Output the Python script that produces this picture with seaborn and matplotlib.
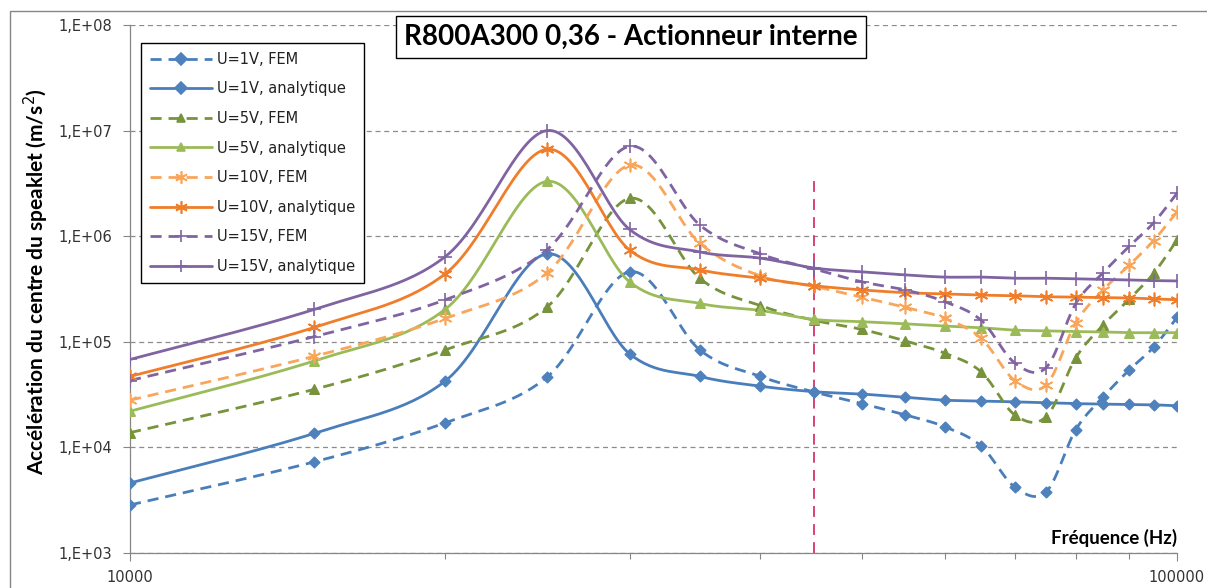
import numpy as np
import matplotlib
matplotlib.use("Agg")
import matplotlib.pyplot as plt
import seaborn as sns
from matplotlib.lines import Line2D
from matplotlib.patches import Rectangle
from matplotlib.ticker import FixedLocator, FuncFormatter, NullFormatter

# frequencies (Hz)
freq = [10000, 15000, 20000, 25000, 30000, 35000, 40000, 45000, 50000, 55000,
        60000, 65000, 70000, 75000, 80000, 85000, 90000, 95000, 100000]

# acceleration values (m/s2)
u1_fem = [2.85e3, 7.3e3, 1.71e4, 4.6e4, 4.6e5, 8.4e4, 4.7e4, 3.35e4, 2.6e4, 2.03e4,
          1.57e4, 1.03e4, 4.2e3, 3.8e3, 1.46e4, 3.0e4, 5.4e4, 8.9e4, 1.7e5]
u1_an = [4.6e3, 1.36e4, 4.25e4, 6.8e5, 7.7e4, 4.7e4, 3.8e4, 3.37e4, 3.2e4, 2.98e4,
         2.8e4, 2.75e4, 2.7e4, 2.65e4, 2.6e4, 2.57e4, 2.55e4, 2.53e4, 2.48e4]
u5_fem = [1.38e4, 3.55e4, 8.4e4, 2.12e5, 2.28e6, 4.0e5, 2.2e5, 1.6e5, 1.31e5, 1.02e5,
          7.8e4, 5.2e4, 2.03e4, 1.95e4, 7.0e4, 1.44e5, 2.52e5, 4.45e5, 9.2e5]
u5_an = [2.2e4, 6.6e4, 2.03e5, 3.3e6, 3.7e5, 2.31e5, 1.98e5, 1.63e5, 1.55e5, 1.48e5,
         1.41e5, 1.36e5, 1.29e5, 1.27e5, 1.25e5, 1.24e5, 1.22e5, 1.22e5, 1.22e5]
u10_fem = [2.8e4, 7.3e4, 1.67e5, 4.45e5, 4.7e6, 8.6e5, 4.2e5, 3.35e5, 2.64e5, 2.12e5,
           1.67e5, 1.08e5, 4.3e4, 3.9e4, 1.5e5, 3.1e5, 5.3e5, 9.1e5, 1.7e6]
u10_an = [4.7e4, 1.37e5, 4.4e5, 6.65e6, 7.4e5, 4.8e5, 4.0e5, 3.4e5, 3.1e5, 2.92e5,
          2.84e5, 2.77e5, 2.73e5, 2.67e5, 2.65e5, 2.62e5, 2.6e5, 2.55e5, 2.5e5]
u15_fem = [4.3e4, 1.12e5, 2.5e5, 7.4e5, 7.1e6, 1.28e6, 6.8e5, 4.9e5, 3.7e5, 3.1e5,
           2.4e5, 1.6e5, 6.3e4, 5.7e4, 2.28e5, 4.5e5, 8.0e5, 1.34e6, 2.55e6]
u15_an = [6.8e4, 2.03e5, 6.4e5, 1.0e7, 1.16e6, 7.1e5, 6.2e5, 5.0e5, 4.6e5, 4.3e5,
          4.1e5, 4.1e5, 4.0e5, 4.0e5, 3.95e5, 3.9e5, 3.85e5, 3.8e5, 3.77e5]

labels = ["U=1V, FEM", "U=1V, analytique", "U=5V, FEM", "U=5V, analytique",
          "U=10V, FEM", "U=10V, analytique", "U=15V, FEM", "U=15V, analytique"]
series = [u1_fem, u1_an, u5_fem, u5_an, u10_fem, u10_an, u15_fem, u15_an]

colors = ["#4A7EBB", "#4A7EBB", "#77933C", "#9BBB59",
          "#F9A65A", "#F07D2A", "#8064A2", "#8064A2"]
marker_colors = ["#4F81BD", "#4F81BD", "#77933C", "#9BBB59",
                 "#F9A65A", "#F07D2A", "#8064A2", "#8064A2"]
star = (6, 2, 0)
markers = ["D", "D", "^", "^", star, star, "+", "+"]
msizes = [28, 28, 45, 45, 80, 80, 90, 90]
dashed = [True, False, True, False, True, False, True, False]

marker_freq = 45000      # vertical reference line
marker_top = 3.8e6


def smooth(x, y, n=30):
    # Catmull-Rom spline in log-log space (like Excel "smoothed line")
    lx = np.log10(x)
    ly = np.log10(y)
    px = np.concatenate([[lx[0]], lx, [lx[-1]]])
    py = np.concatenate([[ly[0]], ly, [ly[-1]]])
    t = np.linspace(0, 1, n, endpoint=False)
    xs, ys = [], []
    for i in range(1, len(px) - 2):
        for p, out in ((px, xs), (py, ys)):
            p0, p1, p2, p3 = p[i - 1], p[i], p[i + 1], p[i + 2]
            out.extend(0.5 * (2 * p1 + (-p0 + p2) * t
                              + (2 * p0 - 5 * p1 + 4 * p2 - p3) * t ** 2
                              + (-p0 + 3 * p1 - 3 * p2 + p3) * t ** 3))
    xs.append(lx[-1])
    ys.append(ly[-1])
    return 10 ** np.array(xs), 10 ** np.array(ys)


sns.set_style("white")
plt.rcParams["font.family"] = ["DejaVu Sans"]

fig = plt.figure(figsize=(12.07, 5.88), dpi=100)
ax = fig.add_axes([130 / 1207, 1 - 553 / 588, 1047 / 1207, 528 / 588])

for i in range(len(series)):
    sx, sy = smooth(freq, series[i])
    ls = (0, (4, 2.5)) if dashed[i] else "-"
    sns.lineplot(x=sx, y=sy, sort=False, estimator=None, color=colors[i],
                 linewidth=2, linestyle=ls, ax=ax, zorder=2)
    kw = {}
    if markers[i] in ("D", "^"):
        kw["edgecolor"] = marker_colors[i]
    sns.scatterplot(x=freq, y=series[i], marker=markers[i], s=msizes[i],
                    color=marker_colors[i], linewidth=1.2, ax=ax, zorder=3, **kw)

ax.vlines(marker_freq, 1e3, marker_top, color="#D6336C", linewidth=1.3,
          linestyle=(0, (6, 4)), zorder=1)

ax.set_xscale("log")
ax.set_yscale("log")
ax.set_xlim(10000, 100000)
ax.set_ylim(1e3, 1e8)

ax.yaxis.set_major_locator(FixedLocator([1e3, 1e4, 1e5, 1e6, 1e7, 1e8]))
ax.yaxis.set_major_formatter(FuncFormatter(lambda v, p: "1,E+%02d" % round(np.log10(v))))
ax.yaxis.set_minor_formatter(NullFormatter())
ax.yaxis.set_minor_locator(FixedLocator([]))
ax.xaxis.set_major_locator(FixedLocator([10000, 100000]))
ax.xaxis.set_major_formatter(FuncFormatter(lambda v, p: "%d" % v))
ax.xaxis.set_minor_locator(FixedLocator([k * 10000 for k in range(2, 10)]))
ax.xaxis.set_minor_formatter(NullFormatter())

ax.tick_params(axis="y", which="major", direction="out", length=5, width=0.8,
               color="#868686", labelsize=10.5, labelcolor="#333333", pad=8, left=True)
ax.tick_params(axis="x", which="major", direction="out", length=6, width=0.8,
               color="#868686", labelsize=10.5, labelcolor="#333333", pad=6, bottom=True)
ax.tick_params(axis="x", which="minor", direction="out", length=4, width=0.8,
               color="#868686", bottom=True)

ax.grid(axis="y", which="major", color="#8C8C8C", linewidth=0.9, linestyle=(0, (4, 3)))
ax.set_axisbelow(True)
for s in ["top", "right"]:
    ax.spines[s].set_visible(False)
for s in ["left", "bottom"]:
    ax.spines[s].set_color("#868686")
    ax.spines[s].set_linewidth(0.9)

handles = []
for i in range(len(series)):
    mfc = marker_colors[i]
    handles.append(Line2D([], [], color=colors[i], linewidth=2,
                          linestyle=(0, (4, 2.5)) if dashed[i] else "-",
                          marker=markers[i], markersize=6 if markers[i] in ("D", "^") else 9,
                          markerfacecolor=mfc, markeredgecolor=mfc, markeredgewidth=1.2))
leg = ax.legend(handles, labels, loc="upper left", bbox_to_anchor=(141 / 1207, 1 - 43 / 588),
                bbox_transform=fig.transFigure, fontsize=10.5, frameon=True, fancybox=False,
                edgecolor="black", framealpha=1, handlelength=4.3, labelspacing=1.0,
                borderpad=0.6, handletextpad=0.3, borderaxespad=0)
leg.get_frame().set_linewidth(1.0)
for t in leg.get_texts():
    t.set_color("#222222")

fig.text(631 / 1207, 1 - 37 / 588, "R800A300 0,36 - Actionneur interne",
         family=["Lato", "DejaVu Sans"], fontweight="bold", fontsize=20,
         ha="center", va="center", color="black",
         bbox=dict(boxstyle="square,pad=0.3", facecolor="white", edgecolor="black", linewidth=1))

fig.text(36 / 1207, 1 - 282 / 588, "Accélération du centre du speaklet (m/s$^2$)",
         family=["Lato", "DejaVu Sans"], fontweight="bold", fontsize=15,
         rotation=90, ha="center", va="center", color="black")

ax.text(1.0, 0.012, "Fréquence (Hz)", transform=ax.transAxes,
        family=["Lato", "DejaVu Sans"], fontweight="bold", fontsize=13.5,
        ha="right", va="bottom", color="black")

# outer chart border
fig.patches.append(Rectangle((9.5 / 1207, -0.1), 1.2, 1.1 - 11.5 / 588,
                             transform=fig.transFigure, fill=False,
                             edgecolor="#868686", linewidth=1.0))

fig.savefig("out.png", dpi=100, facecolor="white")
